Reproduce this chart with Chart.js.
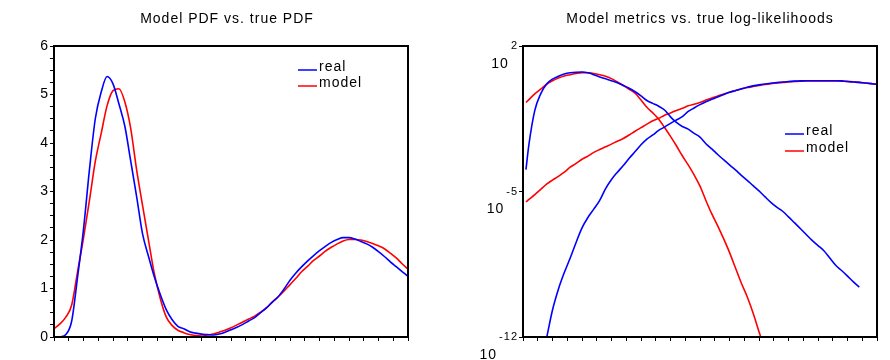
<!DOCTYPE html>
<html>
<head>
<meta charset="utf-8">
<script src="https://cdn.jsdelivr.net/npm/chart.js"></script>
<style>
  body { margin: 0; background: #fff; }
  #wrap { position: relative; width: 890px; height: 360px; background: #fff; }
  canvas { position: absolute; top: 0; }
</style>
</head>
<body>
<div id="wrap">
  <canvas id="pdfChart" width="445" height="360" style="left:0"></canvas>
  <canvas id="metricChart" width="445" height="360" style="left:445px"></canvas>
</div>
<script>
// ---- left panel: densities ----
var pdfX = [0, 0.1, 0.2, 0.3, 0.4, 0.5, 0.6, 0.7, 0.8, 0.9, 1.0, 1.1, 1.2, 1.3, 1.4, 1.5, 1.6, 1.7, 1.8, 1.9,
    2.0, 2.1, 2.2, 2.3, 2.4, 2.5, 2.6, 2.7, 2.8, 2.9, 3.0, 3.1, 3.2, 3.3, 3.4, 3.5, 3.6, 3.7, 3.8, 3.9,
    4.0, 4.1, 4.2, 4.3, 4.4, 4.5, 4.6, 4.7, 4.8, 4.9, 5.0, 5.1, 5.2, 5.3, 5.4, 5.5, 5.6, 5.7, 5.8, 5.9, 6.0];
var realPdf = [null, 0, 0.05, 0.33, 1.24, 2.22, 3.44, 4.5, 5.05, 5.37, 5.22, 4.81, 4.35, 3.63, 2.9, 2.13, 1.67, 1.24, 0.88, 0.57,
    0.36, 0.22, 0.17, 0.11, 0.08, 0.06, 0.05, 0.04, 0.06, 0.1, 0.15, 0.2, 0.26, 0.33, 0.4, 0.5, 0.6, 0.72, 0.83, 0.99,
    1.17, 1.32, 1.45, 1.57, 1.68, 1.78, 1.87, 1.95, 2.01, 2.05, 2.05, 2.02, 1.97, 1.92, 1.85, 1.76, 1.66, 1.55, 1.45, 1.35, 1.25];
var modelPdf = [0.17, 0.27, 0.41, 0.66, 1.35, 2.04, 2.81, 3.62, 4.2, 4.77, 5.08, 5.12, 4.85, 4.3, 3.45, 2.72, 2.01, 1.31, 0.8, 0.42,
    0.24, 0.14, 0.09, 0.05, 0.03, 0.02, 0.04, 0.06, 0.1, 0.14, 0.19, 0.25, 0.31, 0.37, 0.43, 0.51, 0.6, 0.72, 0.83, 0.95,
    1.08, 1.21, 1.35, 1.46, 1.58, 1.67, 1.77, 1.85, 1.92, 1.98, 2.01, 2.01, 2.0, 1.97, 1.93, 1.88, 1.82, 1.73, 1.63, 1.51, 1.4];
var pdfYMin = 0, pdfYMax = 6;

// ---- right panel: log10 of the metrics ----
var metricX = [0.05, 0.1, 0.2, 0.3, 0.4, 0.5, 0.6, 0.7, 0.8, 0.9, 1.0, 1.1, 1.2, 1.3, 1.4, 1.5, 1.6, 1.7, 1.8, 1.9,
    2.0, 2.1, 2.2, 2.3, 2.4, 2.5, 2.6, 2.7, 2.8, 2.9, 3.0, 3.1, 3.2, 3.3, 3.4, 3.5, 3.6, 3.7, 3.8, 3.9,
    4.0, 4.1, 4.2, 4.3, 4.4, 4.5, 4.6, 4.7, 4.8, 4.9, 5.0, 5.1, 5.2, 5.3, 5.4, 5.5, 5.6, 5.7, 5.8, 5.9, 6.0];
var realFitLog = [-3.95, -2.75, -1.1, -0.3, 0.17, 0.41, 0.54, 0.65, 0.71, 0.74, 0.75, 0.71, 0.62, 0.51, 0.42, 0.33, 0.23, 0.1, -0.03, -0.2,
    -0.4, -0.62, -0.76, -0.9, -1.08, -1.41, -1.68, -1.87, -2.0, -2.2, -2.38, -2.7, -2.95, -3.22, -3.47, -3.72, -3.96, -4.22, -4.46, -4.72,
    -4.97, -5.25, -5.52, -5.75, -5.95, -6.22, -6.5, -6.78, -7.07, -7.35, -7.6, -7.85, -8.2, -8.55, -8.8, -9.07, -9.35, -9.6, null, null, null];
var modelFitLog = [-0.72, -0.58, -0.3, -0.08, 0.16, 0.33, 0.46, 0.56, 0.62, 0.68, 0.72, 0.71, 0.68, 0.62, 0.54, 0.43, 0.27, 0.1, -0.08, -0.27,
    -0.6, -0.95, -1.22, -1.52, -1.92, -2.35, -2.8, -3.28, -3.72, -4.2, -4.74, -5.43, -6.08, -6.65, -7.27, -7.93, -8.67, -9.4, -10.06, -10.85,
    -11.75, -12.6, null, null, null, null, null, null, null, null, null, null, null, null, null, null, null, null, null, null, null];
var realSampLog = [null, null, null, null, -12.05, -10.7, -9.7, -8.9, -8.2, -7.45, -6.75, -6.25, -5.85, -5.43, -4.86, -4.42, -4.07, -3.75, -3.4, -3.08,
    -2.75, -2.48, -2.28, -2.06, -1.9, -1.72, -1.56, -1.4, -1.15, -0.98, -0.82, -0.68, -0.56, -0.45, -0.34, -0.23, -0.15, -0.06, 0.02, 0.08,
    0.13, 0.17, 0.21, 0.24, 0.27, 0.29, 0.31, 0.32, 0.33, 0.33, 0.33, 0.33, 0.33, 0.33, 0.32, 0.29, 0.27, 0.25, 0.22, 0.19, 0.16];
var modelSampLog = [-5.5, -5.38, -5.15, -4.9, -4.65, -4.45, -4.27, -4.07, -3.83, -3.65, -3.45, -3.3, -3.12, -2.98, -2.85, -2.72, -2.58, -2.45, -2.28, -2.1,
    -1.93, -1.76, -1.6, -1.48, -1.33, -1.22, -1.1, -1.0, -0.88, -0.8, -0.72, -0.6, -0.5, -0.41, -0.31, -0.22, -0.14, -0.07, 0.0, 0.05,
    0.1, 0.15, 0.19, 0.22, 0.25, 0.27, 0.29, 0.31, 0.32, 0.32, 0.32, 0.32, 0.32, 0.32, 0.31, 0.3, 0.28, 0.25, 0.22, 0.19, 0.16];
var metricYTicks = [1e2, 1e-5, 1e-12];

var seriesNames = ['real', 'model'];
var BLUE = '#0000ff', RED = '#ff0000';
var FONT = '"Liberation Sans", Arial, sans-serif';

var toPoints = function (xs, ys) {
    return xs.map(function (x, i) { return { x: x, y: ys[i] }; });
};
var toLogPoints = function (xs, es) {
    return xs.map(function (x, i) { return { x: x, y: es[i] === null ? null : Math.pow(10, es[i]) }; });
};

// frame, titles, legend and 10^n labels
var decor = {
    id: 'decor',
    afterDraw: function (chart, args, opts) {
        var ctx = chart.ctx, a = chart.chartArea;
        ctx.save();
        ctx.strokeStyle = '#000';
        ctx.lineWidth = 2;
        ctx.strokeRect(a.left, a.top, a.right - a.left, a.bottom - a.top);

        ctx.letterSpacing = '1px';
        ctx.fillStyle = '#000';
        ctx.font = '14px ' + FONT;
        ctx.textAlign = 'center';
        ctx.textBaseline = 'middle';
        ctx.fillText(opts.title, opts.titleX, 19);

        ctx.textAlign = 'left';
        ctx.textBaseline = 'alphabetic';
        chart.data.datasets.filter(function (d) { return d.inLegend; }).forEach(function (d, i) {
            var y = opts.legendY + i * opts.legendGap;
            ctx.strokeStyle = d.borderColor;
            ctx.lineWidth = 1.5;
            ctx.beginPath();
            ctx.moveTo(opts.legendX, y - 1);
            ctx.lineTo(opts.legendX + 19, y - 1);
            ctx.stroke();
            ctx.fillText(d.label, opts.legendX + 21, y);
        });

        if (opts.powers) {
            var ys = chart.scales.y;
            ctx.textBaseline = 'middle';
            ctx.textAlign = 'right';
            ys.ticks.forEach(function (t) {
                var py = ys.getPixelForValue(t.value);
                var ex = String(Math.round(Math.log10(t.value)));
                ctx.font = '11px ' + FONT;
                var xr = a.left - 5;
                ctx.fillText(ex, xr, py);
                var w = ctx.measureText(ex).width;
                ctx.font = '14px ' + FONT;
                ctx.fillText('10', xr - w - 2, py + 18);
            });
        }
        ctx.restore();
    }
};

var tickGrid = { drawOnChartArea: false, drawTicks: true, tickLength: 4, color: '#000', lineWidth: 1 };

new Chart(document.getElementById('pdfChart'), {
    type: 'line',
    data: {
        datasets: [
            { label: seriesNames[0], data: toPoints(pdfX, realPdf), borderColor: BLUE, inLegend: true },
            { label: seriesNames[1], data: toPoints(pdfX, modelPdf), borderColor: RED, inLegend: true }
        ]
    },
    options: {
        responsive: false,
        animation: false,
        layout: { padding: { top: 46, right: 37, left: 0, bottom: 0 } },
        elements: { point: { radius: 0 }, line: { borderWidth: 1.6, cubicInterpolationMode: 'monotone' } },
        scales: {
            x: {
                type: 'linear', min: 0, max: 6,
                afterFit: function (s) { s.height = 23; },
                border: { display: false },
                grid: tickGrid,
                ticks: { stepSize: 0.25, autoSkip: false, callback: function () { return ''; } }
            },
            y: {
                min: pdfYMin, max: pdfYMax,
                afterFit: function (s) { s.width = 54; },
                border: { display: false },
                grid: tickGrid,
                ticks: {
                    stepSize: 0.25, autoSkip: false, padding: 2, color: '#000',
                    font: { family: FONT, size: 14 },
                    callback: function (v) { return Number.isInteger(v) ? String(v) : ''; }
                }
            }
        },
        plugins: {
            legend: { display: false },
            tooltip: { enabled: false },
            decor: { title: 'Model PDF vs. true PDF', titleX: 227, legendX: 298, legendY: 71, legendGap: 16 }
        }
    },
    plugins: [decor]
});

new Chart(document.getElementById('metricChart'), {
    type: 'line',
    data: {
        datasets: [
            { label: seriesNames[0], data: toLogPoints(metricX, realFitLog), borderColor: BLUE, inLegend: true },
            { label: seriesNames[0], data: toLogPoints(metricX, realSampLog), borderColor: BLUE },
            { label: seriesNames[1], data: toLogPoints(metricX, modelFitLog), borderColor: RED, inLegend: true },
            { label: seriesNames[1], data: toLogPoints(metricX, modelSampLog), borderColor: RED }
        ]
    },
    options: {
        responsive: false,
        animation: false,
        layout: { padding: { top: 46, right: 13, left: 0, bottom: 0 } },
        elements: { point: { radius: 0 }, line: { borderWidth: 1.6, cubicInterpolationMode: 'monotone' } },
        scales: {
            x: {
                type: 'linear', min: 0, max: 6,
                afterFit: function (s) { s.height = 23; },
                border: { display: false },
                grid: tickGrid,
                ticks: { stepSize: 0.25, autoSkip: false, callback: function () { return ''; } }
            },
            y: {
                type: 'logarithmic', min: 1e-12, max: 1e2,
                afterFit: function (s) { s.width = 78; },
                afterBuildTicks: function (s) { s.ticks = metricYTicks.map(function (v) { return { value: v }; }); },
                border: { display: false },
                grid: tickGrid,
                ticks: { autoSkip: false, callback: function () { return ''; } }
            }
        },
        plugins: {
            legend: { display: false },
            tooltip: { enabled: false },
            decor: { title: 'Model metrics vs. true log-likelihoods', titleX: 255, legendX: 340, legendY: 135, legendGap: 17, powers: true }
        }
    },
    plugins: [decor]
});
</script>
</body>
</html>
